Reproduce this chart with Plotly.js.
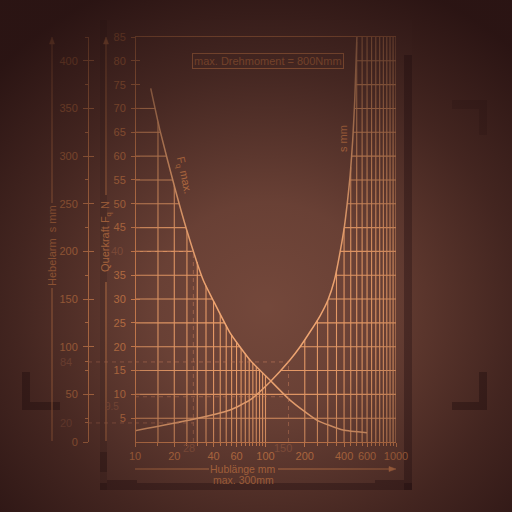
<!DOCTYPE html>
<html><head><meta charset="utf-8">
<script src="https://cdn.plot.ly/plotly-3.0.1.min.js"></script>
<style>
html,body{margin:0;padding:0;width:512px;height:512px;overflow:hidden;background:#714538;}
#wrap{position:relative;width:512px;height:512px;}
#chart{position:absolute;left:0;top:0;width:512px;height:512px;}
#vig{position:absolute;left:0;top:0;width:512px;height:512px;pointer-events:none;
 background:radial-gradient(ellipse 72% 68% at 52% 60%, rgba(25,8,10,0) 0%, rgba(25,8,10,0.12) 30%, rgba(25,8,10,0.52) 68%, rgba(25,8,10,0.8) 100%);}
</style></head>
<body><div id="wrap"><div id="chart"></div><div id="vig"></div></div>
<script>
// ---- data ----
// Querkraft curve F_q max (N) against Hublänge (mm)
const hubF   = [13.2, 15.5, 20.2, 24.9, 33.3, 39.6, 53.5, 76.1, 108, 154, 247, 393, 600];
const kraftF = [74.2, 65.5, 53.3, 44.5, 34.0, 29.8, 22.9, 17.2, 13.0, 8.8, 4.6, 2.5, 1.95];
// Hebelarm curve s (mm) against Hublänge (mm)
const hubS = [10, 26.4, 53.5, 76.1, 108.2, 153.9, 183.6, 219, 261.4, 301.1, 337.6, 375.4, 403.8, 425.9, 445.6, 466, 483.1, 501.5];
const armS = [11.9, 23.1, 33.6, 44.1, 63.0, 86.0, 99.7, 115.4, 132.2, 149.0, 170.0, 201.5, 227.7, 253.9, 280.2, 316.9, 358.9, 425];
// reference example values (dashed)
const refHub   = [28, 150];
const refArm   = [20, 84];
const refKraft = [40, 9.5];
// grid / tick values
const gridHub   = [15,20,25,30,35,40,45,50,55,60,65,70,75,80,85,90,95,100,200,250,300,350,400,450,500,550,600,650,700,750,800,850,900,950,1000];
const gridKraft = [5,10,15,20,25,30,35,40,45,50,55,60,65,70,75,80];
const xTickVals = [10,20,40,60,100,200,400,600,1000];
const xTickText = ['10','20','40','60','100','200','400','600','1000'];
const xMinorVals = [15,25,30,35,45,50,55,65,70,75,80,85,90,95,250,300,350,450,500,550,650,700,750,800,850,900,950];
const fqTickVals = [5,10,15,20,25,30,35,40,45,50,55,60,65,70,75,80,85];
const fqTickText = ['5','10','15','20','25','30','35','','45','50','55','60','65','70','75','80','85'];
const sTickVals = [0,50,100,150,200,250,300,350,400];
const sMinorVals = [20,25,75,84,125,175,225,275,325,375,425];
const sPerF = 5; // Hebelarm scale = 5 x Querkraft scale

// ---- style ----
const FONT = '"Liberation Sans", "DejaVu Sans", Arial, sans-serif';
const GRID = '#f6a56e', CURVE = '#fbae78', AXIS = '#e68f59', TEXT = '#dc8650', DIM = '#9c6048', DASH = 'rgba(205,130,95,0.6)';
const W = 512, TOP = 37, BOT = 442, XL = 135, XR = 396;
const px = v => v / W, py = v => (BOT - v) / (BOT - TOP);

// ---- helpers: piecewise-linear in log(h) ----
function valAt(xs, ys, x){
  if (x < xs[0] || x > xs[xs.length-1]) return null;
  const lx = Math.log10(x);
  for (let i=0;i<xs.length-1;i++){
    if (x>=xs[i] && x<=xs[i+1]){
      const a=Math.log10(xs[i]), b=Math.log10(xs[i+1]);
      const t=(lx-a)/(b-a); return ys[i]+t*(ys[i+1]-ys[i]);
    }
  }
  return null;
}
function hubAt(xs, ys, v){
  for (let i=0;i<xs.length-1;i++){
    if ((ys[i]-v)*(ys[i+1]-v)<=0 && ys[i]!==ys[i+1]){
      const a=Math.log10(xs[i]), b=Math.log10(xs[i+1]);
      const t=(v-ys[i])/(ys[i+1]-ys[i]); return Math.pow(10, a+t*(b-a));
    }
  }
  return null;
}
const armSinF = armS.map(v => v / sPerF);
function envelope(h){
  const f = valAt(hubF, kraftF, h);
  let s = valAt(hubS, armSinF, h);
  if (h > hubS[hubS.length-1]) s = 85;
  return Math.max(f===null?0:f, s===null?0:s);
}
// grid clipped under the two curves
const gx=[], gy=[];
gridHub.forEach(h => { gx.push(h,h,null); gy.push(0, Math.min(85, envelope(h)), null); });
gridKraft.forEach(L => {
  const xF = hubAt(hubF, kraftF, L);
  const xS = hubAt(hubS, armSinF, L);
  if (xF!==null && xS!==null && xF >= xS){ gx.push(10,1000,null); gy.push(L,L,null); return; }
  if (xF!==null){ gx.push(10,xF,null); gy.push(L,L,null); }
  if (xS!==null){ gx.push(xS,1000,null); gy.push(L,L,null); }
});

const dashLine = {color:DASH, width:1, dash:'4px,4px'};
const traces = [
  {x:gx, y:gy, mode:'lines', line:{color:GRID, width:1.1}, hoverinfo:'skip', connectgaps:false},
  {x:hubF, y:kraftF, mode:'lines', line:{color:CURVE, width:1.5, shape:'spline', smoothing:0.5}},
  {x:hubS, y:armS, yaxis:'y2', mode:'lines', line:{color:CURVE, width:1.5, shape:'spline', smoothing:0.5}},
  // dashed example lines
  {x:[10, refHub[0]], y:[refArm[0], refArm[0]], yaxis:'y2', mode:'lines', line:dashLine},
  {x:[10, refHub[1]], y:[refArm[1], refArm[1]], yaxis:'y2', mode:'lines', line:dashLine},
  {x:[10, refHub[0]], y:[refKraft[0], refKraft[0]], mode:'lines', line:dashLine},
  {x:[10, refHub[1]], y:[refKraft[1], refKraft[1]], mode:'lines', line:dashLine},
  {x:[refHub[0], refHub[0]], y:[0, refKraft[0]], mode:'lines', line:dashLine},
  {x:[refHub[1], refHub[1]], y:[0, refArm[1]], yaxis:'y2', mode:'lines', line:dashLine},
  {x:[10], y:[0], yaxis:'y3', mode:'markers', marker:{opacity:0}, hoverinfo:'skip'},
  {x:[10], y:[0], yaxis:'y4', mode:'markers', marker:{opacity:0}, hoverinfo:'skip'}
];

const dark = 'rgba(22,6,8,0.32)';
const rect = (x0,y0,x1,y1,fill) => ({type:'rect', xref:'paper', yref:'paper', x0:px(x0), x1:px(x1), y0:py(y0), y1:py(y1), fillcolor:fill, line:{width:0}, layer:'below'});
const seg = (x0,y0,x1,y1,color) => ({type:'line', xref:'paper', yref:'paper', x0:px(x0), x1:px(x1), y0:py(y0), y1:py(y1), line:{color:color, width:1}, layer:'above'});
const arrowHead = (x,y,dir) => ({type:'path', xref:'paper', yref:'paper',
  path: dir==='up'
    ? `M ${px(x-2.5)} ${py(y+7)} L ${px(x)} ${py(y)} L ${px(x+2.5)} ${py(y+7)} Z`
    : `M ${px(x-7)} ${py(y-2.5)} L ${px(x)} ${py(y)} L ${px(x-7)} ${py(y+2.5)} Z`,
  fillcolor:AXIS, line:{color:AXIS, width:0.5}, layer:'above'});

const shapes = [
  rect(100,20,412,490,'rgba(255,215,195,0.025)'),
  rect(100,20,107,490,'rgba(22,6,8,0.15)'),
  rect(404,55,412,490,dark),
  rect(100,483,412,490,dark),
  rect(107,480,137,483,dark),
  rect(375,480,404,483,dark),
  rect(100,452,107,472,'rgba(22,6,8,0.25)'),
  // corner marks
  rect(22,372,30,410,'rgba(22,6,8,0.35)'),
  rect(30,402,60,410,'rgba(22,6,8,0.35)'),
  rect(479,372,487,410,'rgba(22,6,8,0.35)'),
  rect(452,402,479,410,'rgba(22,6,8,0.35)'),
  rect(452,100,487,109,'rgba(22,6,8,0.15)'),
  rect(479,109,487,135,'rgba(22,6,8,0.15)'),
  // axis arrows
  seg(52,40,52,203,AXIS), arrowHead(52,37,'up'),
  seg(52,288,52,441,AXIS),
  seg(106,40,106,195,AXIS), arrowHead(106,37,'up'),
  seg(106,282,106,441,AXIS),
  seg(135,469,209,469,AXIS),
  seg(278,469,392,469,AXIS), arrowHead(396,469,'right'),
  // dashed reference continuation to Hebelarm axis
  {type:'line', xref:'paper', yref:'y2', x0:px(88), x1:px(XL), y0:refArm[0], y1:refArm[0], line:dashLine},
  {type:'line', xref:'paper', yref:'y2', x0:px(88), x1:px(XL), y0:refArm[1], y1:refArm[1], line:dashLine}
];

const ann = (x,y,text,opt) => Object.assign({xref:'paper', yref:'paper', x:px(x), y:py(y), text:text, showarrow:false, xanchor:'center', yanchor:'middle', font:{family:FONT, size:11, color:TEXT}}, opt||{});
const f10 = {family:FONT, size:10.5, color:TEXT};
const annotations = [
  ann(267.5,60.5,'max. Drehmoment = 800Nmm',{bordercolor:AXIS, borderwidth:1, borderpad:1}),
  ann(52,246,'Hebelarm  s mm',{textangle:-90}),
  ann(106,237,'Querkraft F<sub>q</sub> N',{textangle:-90}),
  ann(243,469,'Hublänge mm',{font:f10}),
  ann(243,480,'max. 300mm',{font:f10}),
  ann(183.5,175,'F<sub>q</sub> max.',{textangle:78}),
  ann(343,139,'s mm',{textangle:-90}),
  // dim example labels
  {xref:'paper', yref:'y2', x:px(74), y:refArm[0], text:String(refArm[0]), showarrow:false, xanchor:'right', font:{family:FONT,size:11,color:DIM}},
  {xref:'paper', yref:'y2', x:px(74), y:refArm[1], text:String(refArm[1]), showarrow:false, xanchor:'right', font:{family:FONT,size:11,color:DIM}},
  {xref:'paper', yref:'y', x:px(125), y:refKraft[0], text:String(refKraft[0]), showarrow:false, xanchor:'right', font:{family:FONT,size:11,color:DIM}},
  {xref:'paper', yref:'y', x:px(121), y:refKraft[1], yshift:-10, text:String(refKraft[1]), showarrow:false, xanchor:'right', font:{family:FONT,size:10,color:DIM}},
  {xref:'x', yref:'paper', x:Math.log10(refHub[0]), y:py(456), xshift:-4, text:String(refHub[0]), showarrow:false, font:{family:FONT,size:11,color:DIM}},
  {xref:'x', yref:'paper', x:Math.log10(refHub[1]), y:py(456), xshift:-5, text:String(refHub[1]), showarrow:false, font:{family:FONT,size:11,color:DIM}}
];

const tf = {family:FONT, size:11, color:TEXT};
const layout = {
  width:512, height:512,
  margin:{l:0, r:0, t:TOP, b:W-BOT, pad:0},
  paper_bgcolor:'rgba(0,0,0,0)', plot_bgcolor:'rgba(0,0,0,0)',
  showlegend:false, font:tf, hovermode:false,
  xaxis:{type:'log', range:[1,3], domain:[px(XL),px(XR)], anchor:'y', showline:true, mirror:true, linecolor:AXIS, linewidth:1,
         showgrid:false, zeroline:false, ticks:'outside', ticklen:4, tickcolor:AXIS, tickwidth:1,
         tickmode:'array', tickvals:xTickVals, ticktext:xTickText, tickfont:tf, tickangle:0, ticklabelstandoff:0,
         minor:{tickmode:'array', tickvals:xMinorVals, ticklen:3, tickcolor:AXIS, showgrid:false}},
  yaxis:{range:[0,85], domain:[0,1], anchor:'free', position:px(XL), side:'left', showline:true, linecolor:AXIS, linewidth:1,
         showgrid:false, zeroline:false, ticks:'outside', ticklen:4, tickcolor:AXIS, tickmode:'array', tickvals:fqTickVals, ticktext:fqTickText, tickfont:tf, ticklabelstandoff:3},
  yaxis3:{range:[0,85], overlaying:'y', anchor:'free', position:px(XL), side:'left', showline:false, showgrid:false, zeroline:false,
         ticks:'inside', ticklen:4, tickcolor:AXIS, tickmode:'array', tickvals:fqTickVals, showticklabels:false},
  yaxis2:{range:[0,425], overlaying:'y', anchor:'free', position:px(88), side:'left', showline:true, linecolor:AXIS, linewidth:1,
         showgrid:false, zeroline:false, ticks:'outside', ticklen:5, tickcolor:AXIS, tickmode:'array', tickvals:sTickVals, tickfont:tf, ticklabelstandoff:3,
         minor:{tickmode:'array', tickvals:sMinorVals, ticklen:3, tickcolor:AXIS, showgrid:false}},
  yaxis4:{range:[0,425], overlaying:'y', anchor:'free', position:px(88), side:'left', showline:false, showgrid:false, zeroline:false,
         ticks:'inside', ticklen:5, tickcolor:AXIS, tickmode:'array', tickvals:sTickVals, showticklabels:false,
         minor:{tickmode:'array', tickvals:sMinorVals, ticklen:3, tickcolor:AXIS, showgrid:false}},
  shapes:shapes, annotations:annotations
};
Plotly.newPlot('chart', traces, layout, {staticPlot:true, displayModeBar:false});
</script></body></html>
